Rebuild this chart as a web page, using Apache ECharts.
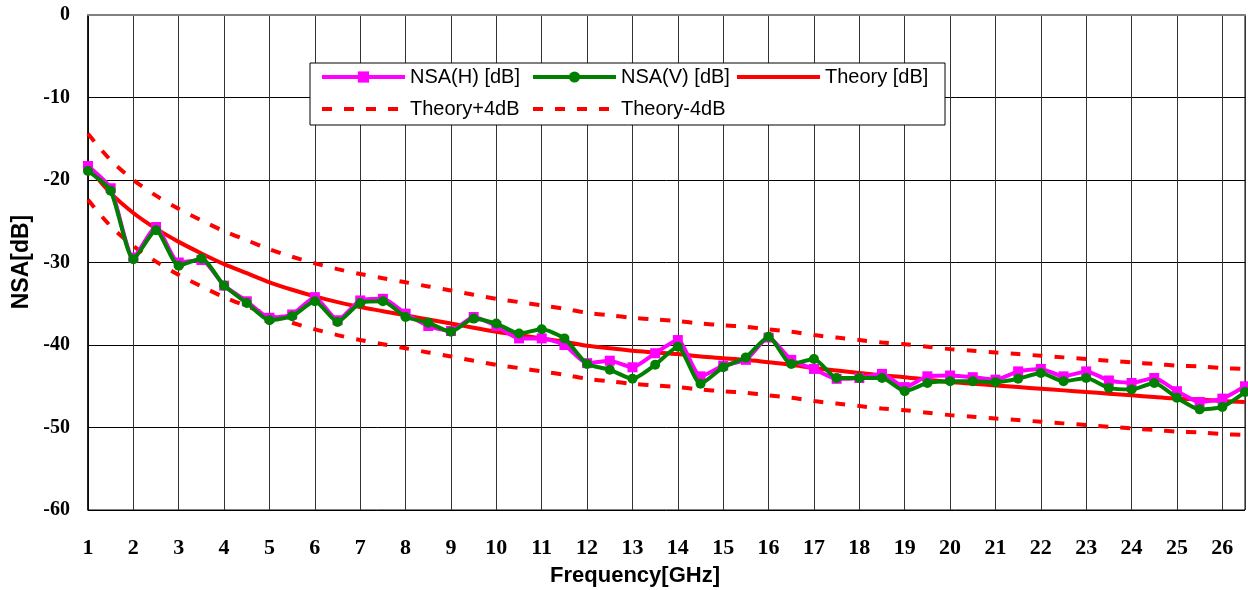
<!DOCTYPE html>
<html>
<head>
<meta charset="utf-8">
<script src="https://cdn.jsdelivr.net/npm/echarts@6/dist/echarts.min.js"></script>
<style>
html,body{margin:0;padding:0;background:#fff;}
#chart{width:1248px;height:590px;}
</style>
</head>
<body>
<div id="chart"></div>
<script>
// ---- Data ----
var freqs = [1,1.5,2,2.5,3,3.5,4,4.5,5,5.5,6,6.5,7,7.5,8,8.5,9,9.5,10,10.5,11,11.5,12,12.5,13,13.5,14,14.5,15,15.5,16,16.5,17,17.5,18,18.5,19,19.5,20,20.5,21,21.5,22,22.5,23,23.5,24,24.5,25,25.5,26,26.5];

var nsaH = [-18.3,-21.0,-29.4,-25.7,-30.0,-29.7,-32.8,-34.7,-36.7,-36.3,-34.2,-37.0,-34.6,-34.4,-36.2,-37.7,-38.3,-36.6,-37.7,-39.2,-39.2,-40.0,-42.2,-41.9,-42.7,-41.0,-39.4,-43.8,-42.5,-41.8,-39.1,-41.8,-42.9,-44.1,-44.0,-43.5,-45.1,-43.8,-43.7,-43.9,-44.2,-43.2,-42.9,-43.8,-43.2,-44.3,-44.6,-44.0,-45.6,-46.9,-46.5,-45.0];

var nsaV = [-18.9,-21.3,-29.6,-26.1,-30.4,-29.5,-32.8,-34.9,-37.0,-36.5,-34.7,-37.2,-34.9,-34.7,-36.6,-37.3,-38.4,-36.8,-37.4,-38.6,-38.1,-39.2,-42.3,-43.0,-44.1,-42.4,-40.2,-44.7,-42.7,-41.5,-39.0,-42.3,-41.7,-44.0,-44.0,-44.0,-45.6,-44.6,-44.4,-44.4,-44.5,-44.1,-43.4,-44.4,-44.0,-45.2,-45.4,-44.6,-46.4,-47.8,-47.5,-45.7];

var theory = [-18.4,-21.6,-24.0,-25.9,-27.5,-28.9,-30.2,-31.3,-32.4,-33.3,-34.1,-34.8,-35.4,-35.9,-36.4,-36.9,-37.4,-37.9,-38.4,-38.8,-39.2,-39.6,-40.1,-40.4,-40.7,-40.9,-41.1,-41.4,-41.6,-41.8,-42.1,-42.4,-42.8,-43.1,-43.4,-43.7,-43.9,-44.2,-44.5,-44.7,-44.9,-45.1,-45.3,-45.5,-45.7,-45.9,-46.1,-46.3,-46.5,-46.6,-46.8,-46.9];

var theoryPlus4 = [-14.4,-17.6,-20.0,-21.9,-23.5,-24.9,-26.2,-27.3,-28.4,-29.3,-30.1,-30.8,-31.4,-31.9,-32.4,-32.9,-33.4,-33.9,-34.4,-34.8,-35.2,-35.6,-36.1,-36.4,-36.7,-36.9,-37.1,-37.4,-37.6,-37.8,-38.1,-38.4,-38.8,-39.1,-39.4,-39.7,-39.9,-40.2,-40.5,-40.7,-40.9,-41.1,-41.3,-41.5,-41.7,-41.9,-42.1,-42.3,-42.5,-42.6,-42.8,-42.9];

var theoryMinus4 = [-22.4,-25.6,-28.0,-29.9,-31.5,-32.9,-34.2,-35.3,-36.4,-37.3,-38.1,-38.8,-39.4,-39.9,-40.4,-40.9,-41.4,-41.9,-42.4,-42.8,-43.2,-43.6,-44.1,-44.4,-44.7,-44.9,-45.1,-45.4,-45.6,-45.8,-46.1,-46.4,-46.8,-47.1,-47.4,-47.7,-47.9,-48.2,-48.5,-48.7,-48.9,-49.1,-49.3,-49.5,-49.7,-49.9,-50.1,-50.3,-50.5,-50.6,-50.8,-50.9];

var yTicks = ['0','-10','-20','-30','-40','-50','-60'];
var seriesNames = ['NSA(H) [dB]','NSA(V) [dB]','Theory [dB]','Theory+4dB','Theory-4dB'];
var xName = 'Frequency[GHz]';
var yName = 'NSA[dB]';

function pairs(vals){ return freqs.map(function(f,i){ return [f, vals[i]]; }); }

var chart = echarts.init(document.getElementById('chart'), null, {renderer:'canvas'});

var legendText = {fontFamily:'Liberation Sans, Arial, sans-serif', fontSize:20, color:'#000'};
function mkLegend(name, left, top, noSymbol){
  var l = {data:[name], left:left, top:top, padding:0, itemWidth:83, itemHeight:14,
    textStyle:legendText, selectedMode:false, z:10, lineStyle:{width:4}};
  if (noSymbol) l.itemStyle = {opacity:0};
  return l;
}

var dashStyle = {color:'#FF0000', width:4, type:[10,12]};

var option = {
  animation:false,
  backgroundColor:'#fff',
  grid:{left:88, right:2, top:15, bottom:80, show:true, borderColor:'#000', borderWidth:1, backgroundColor:'transparent'},
  legend:[
    mkLegend(seriesNames[0], 320, 67, false),
    mkLegend(seriesNames[1], 531, 67, false),
    mkLegend(seriesNames[2], 735, 67, true),
    mkLegend(seriesNames[3], 320, 99, true),
    mkLegend(seriesNames[4], 531, 99, true)
  ],
  graphic:[
    {type:'rect', shape:{x:310, y:63, width:635, height:62}, style:{fill:'#fff', stroke:'#000', lineWidth:1}, z:5},
    {type:'text', x:635, y:576, style:{text:xName, textAlign:'center', textVerticalAlign:'middle', font:'bold 22px "Liberation Sans", Arial, sans-serif', fill:'#000'}, z:5},
    {type:'text', x:22, y:262, rotation:Math.PI/2, style:{text:yName, textAlign:'center', textVerticalAlign:'middle', font:'bold 23px "Liberation Sans", Arial, sans-serif', fill:'#000'}, z:5}
  ],
  xAxis:{
    type:'value', min:1, max:26.5, interval:1,
    axisLine:{show:true, lineStyle:{color:'#808080', width:2}},
    axisTick:{show:false},
    splitLine:{show:true, lineStyle:{color:'#333', width:1}},
    axisLabel:{
      margin:27, color:'#000', fontFamily:'Liberation Serif, Times New Roman, serif', fontWeight:'bold', fontSize:22,
      formatter:function(v){ return (Math.abs(v - Math.round(v)) < 1e-6) ? String(Math.round(v)) : ''; }
    }
  },
  yAxis:{
    type:'value', min:-60, max:0, interval:10,
    axisLine:{show:true, lineStyle:{color:'#000', width:1.5}},
    axisTick:{show:false},
    splitLine:{show:true, lineStyle:{color:'#000', width:1}},
    axisLabel:{
      margin:18, color:'#000', fontFamily:'Liberation Serif, Times New Roman, serif', fontWeight:'bold', fontSize:20,
      formatter:function(v){ var s = String(v); return yTicks.indexOf(s) >= 0 ? s : ''; }
    }
  },
  series:[
    {name:seriesNames[3], type:'line', data:pairs(theoryPlus4), symbol:'none', smooth:0.3, lineStyle:dashStyle, itemStyle:{color:'#FF0000'}, z:2},
    {name:seriesNames[4], type:'line', data:pairs(theoryMinus4), symbol:'none', smooth:0.3, lineStyle:dashStyle, itemStyle:{color:'#FF0000'}, z:2},
    {name:seriesNames[2], type:'line', data:pairs(theory), symbol:'none', smooth:0.3, lineStyle:{color:'#FF0000', width:4}, itemStyle:{color:'#FF0000'}, z:3},
    {name:seriesNames[0], type:'line', data:pairs(nsaH), symbol:'rect', symbolSize:10, smooth:0.2, lineStyle:{color:'#FF00FF', width:4}, itemStyle:{color:'#FF00FF'}, z:4},
    {name:seriesNames[1], type:'line', data:pairs(nsaV), symbol:'circle', symbolSize:10, smooth:0.2, lineStyle:{color:'#008000', width:4}, itemStyle:{color:'#008000'}, z:5}
  ]
};
chart.setOption(option);
</script>
</body>
</html>
